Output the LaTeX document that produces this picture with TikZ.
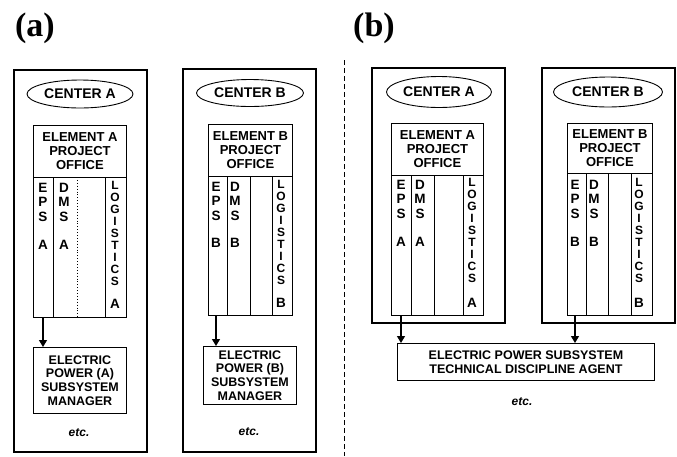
\documentclass[tikz,border=0pt]{standalone}
\usepackage{fontspec}
\setsansfont{Liberation Sans}
\newfontfamily\labelfont{Liberation Serif}
\usetikzlibrary{arrows.meta, positioning, shapes.geometric}

\tikzset{
    frame/.style={draw, line width=1.6pt},
    boxline/.style={draw, line width=0.9pt},
    centre/.style={boxline, ellipse, inner sep=0pt, font=\sffamily\bfseries\fontsize{14}{15}\selectfont},
    office/.style={boxline, inner sep=0pt, align=center, font=\sffamily\bfseries\fontsize{13}{14}\selectfont},
    stack/.style={inner sep=0pt, align=center, anchor=north, font=\sffamily\bfseries\fontsize{13.5}{14.5}\selectfont},
    tallstack/.style={stack, font=\sffamily\bfseries\fontsize{12}{12}\selectfont},
    letter/.style={inner sep=0pt, font=\sffamily\bfseries\fontsize{13.5}{14}\selectfont},
    manager/.style={boxline, inner sep=0pt, align=center, font=\sffamily\bfseries\fontsize{12.5}{13.7}\selectfont},
    etcnote/.style={font=\sffamily\bfseries\itshape\fontsize{12}{14}\selectfont},
    panellabel/.style={font=\labelfont\bfseries\fontsize{34}{36}\selectfont},
    downarrow/.style={-{Triangle[length=7pt,width=8pt]}, line width=1.2pt},
}

\begin{document}
\begin{tikzpicture}[x=1pt, y=-1pt]
    \useasboundingbox (0,0) rectangle (677,456);

    % 面板标签
    \node[panellabel] (labela) at (35,28) {(a)};
    \node[panellabel] (labelb) at (374,28) {(b)};

    % 分隔线
    \coordinate (septop) at (344,60);
    \coordinate (sepbot) at (344,456);
    \draw[line width=1pt, dash pattern=on 5pt off 3pt] (septop) -- (sepbot);

    % (a) Center A
    \begin{scope}
        \draw[frame] (14,70) rectangle (147,452);
        \node[centre, minimum width=106pt, minimum height=28pt] (cenAa) at (80,94) {CENTER A};
        \node[office, minimum width=93pt, minimum height=52pt, anchor=north west] (offAa) at (33,125) {ELEMENT A\\PROJECT\\OFFICE};
        \node[boxline, minimum width=93pt, minimum height=140pt, anchor=north west] (colAa) at (33,177) {};
        \draw[boxline] (53,177) -- (53,317);
        \draw[boxline, dotted] (77,177) -- (77,317);
        \draw[boxline] (105,177) -- (105,317);

        \node[stack] (epsAa) at (43,183) {E\\P\\S};
        \node[letter] (epsAaid) at (43,245) {A};
        \node[stack] (dmsAa) at (64,183) {D\\M\\S};
        \node[letter] (dmsAaid) at (64,245) {A};
        \node[tallstack] (logAa) at (115,181) {L\\O\\G\\I\\S\\T\\I\\C\\S};
        \node[letter] (logAaid) at (115,304) {A};

        \node[manager, minimum width=93pt, minimum height=66pt, anchor=north west] (pwrAa) at (33,347) {ELECTRIC\\POWER (A)\\SUBSYSTEM\\MANAGER};
        \draw[downarrow] (colAa.south -| epsAa) -- (pwrAa.north -| epsAa);

        \node[etcnote] (etcAa) at (79,433) {etc.};
    \end{scope}

    % (a) Center B
    \begin{scope}
        \draw[frame] (183,69) rectangle (316,452);
        \node[centre, minimum width=107pt, minimum height=27pt] (cenBa) at (250,93) {CENTER B};
        \node[office, minimum width=84pt, minimum height=52pt, anchor=north west] (offBa) at (208,124) {ELEMENT B\\PROJECT\\OFFICE};
        \node[boxline, minimum width=84pt, minimum height=139pt, anchor=north west] (colBa) at (208,176) {};
        \draw[boxline] (227,176) -- (227,315);
        \draw[boxline] (250,176) -- (250,315);
        \draw[boxline] (272,176) -- (272,315);

        \node[stack] (epsBa) at (216,182) {E\\P\\S};
        \node[letter] (epsBaid) at (216,243) {B};
        \node[stack] (dmsBa) at (235,182) {D\\M\\S};
        \node[letter] (dmsBaid) at (235,243) {B};
        \node[tallstack] (logBa) at (281,180) {L\\O\\G\\I\\S\\T\\I\\C\\S};
        \node[letter] (logBaid) at (281,303) {B};

        \node[manager, minimum width=93pt, minimum height=58pt, anchor=north west] (pwrBa) at (203,346) {ELECTRIC\\POWER (B)\\SUBSYSTEM\\MANAGER};
        \draw[downarrow] (colBa.south -| epsBa) -- (pwrBa.north -| epsBa);

        \node[etcnote] (etcBa) at (249,432) {etc.};
    \end{scope}

    % (b) Center A
    \begin{scope}
        \draw[frame] (372,68) rectangle (505,323);
        \node[centre, minimum width=105pt, minimum height=31pt] (cenAb) at (439,92) {CENTER A};
        \node[office, minimum width=92pt, minimum height=52pt, anchor=north west] (offAb) at (391,123) {ELEMENT A\\PROJECT\\OFFICE};
        \node[boxline, minimum width=92pt, minimum height=140pt, anchor=north west] (colAb) at (391,175) {};
        \draw[boxline] (411,175) -- (411,315);
        \draw[boxline] (434,175) -- (434,315);
        \draw[boxline] (463,175) -- (463,315);

        \node[stack] (epsAb) at (401,180) {E\\P\\S};
        \node[letter] (epsAbid) at (401,242) {A};
        \node[stack] (dmsAb) at (420,180) {D\\M\\S};
        \node[letter] (dmsAbid) at (420,242) {A};
        \node[tallstack] (logAb) at (472,178) {L\\O\\G\\I\\S\\T\\I\\C\\S};
        \node[letter] (logAbid) at (472,303) {A};
    \end{scope}

    % (b) Center B
    \begin{scope}
        \draw[frame] (542,68) rectangle (675,323);
        \node[centre, minimum width=109pt, minimum height=30pt] (cenBb) at (608,92) {CENTER B};
        \node[office, minimum width=85pt, minimum height=50pt, anchor=north west] (offBb) at (567,123) {ELEMENT B\\PROJECT\\OFFICE};
        \node[boxline, minimum width=85pt, minimum height=142pt, anchor=north west] (colBb) at (567,173) {};
        \draw[boxline] (586,173) -- (586,315);
        \draw[boxline] (608,173) -- (608,315);
        \draw[boxline] (631,173) -- (631,315);

        \node[stack] (epsBb) at (575,180) {E\\P\\S};
        \node[letter] (epsBbid) at (575,242) {B};
        \node[stack] (dmsBb) at (594,180) {D\\M\\S};
        \node[letter] (dmsBbid) at (594,242) {B};
        \node[tallstack] (logBb) at (639,178) {L\\O\\G\\I\\S\\T\\I\\C\\S};
        \node[letter] (logBbid) at (639,303) {B};
    \end{scope}

    % 共同的技术代理
    \node[manager, minimum width=257pt, minimum height=37pt, anchor=north west] (agent) at (397,343) {ELECTRIC POWER SUBSYSTEM\\TECHNICAL DISCIPLINE AGENT};
    \draw[downarrow] (colAb.south -| epsAb) -- (agent.north -| epsAb);
    \draw[downarrow] (colBb.south -| epsBb) -- (agent.north -| epsBb);

    \node[etcnote] (etcb) at (522,402) {etc.};
\end{tikzpicture}
\end{document}
